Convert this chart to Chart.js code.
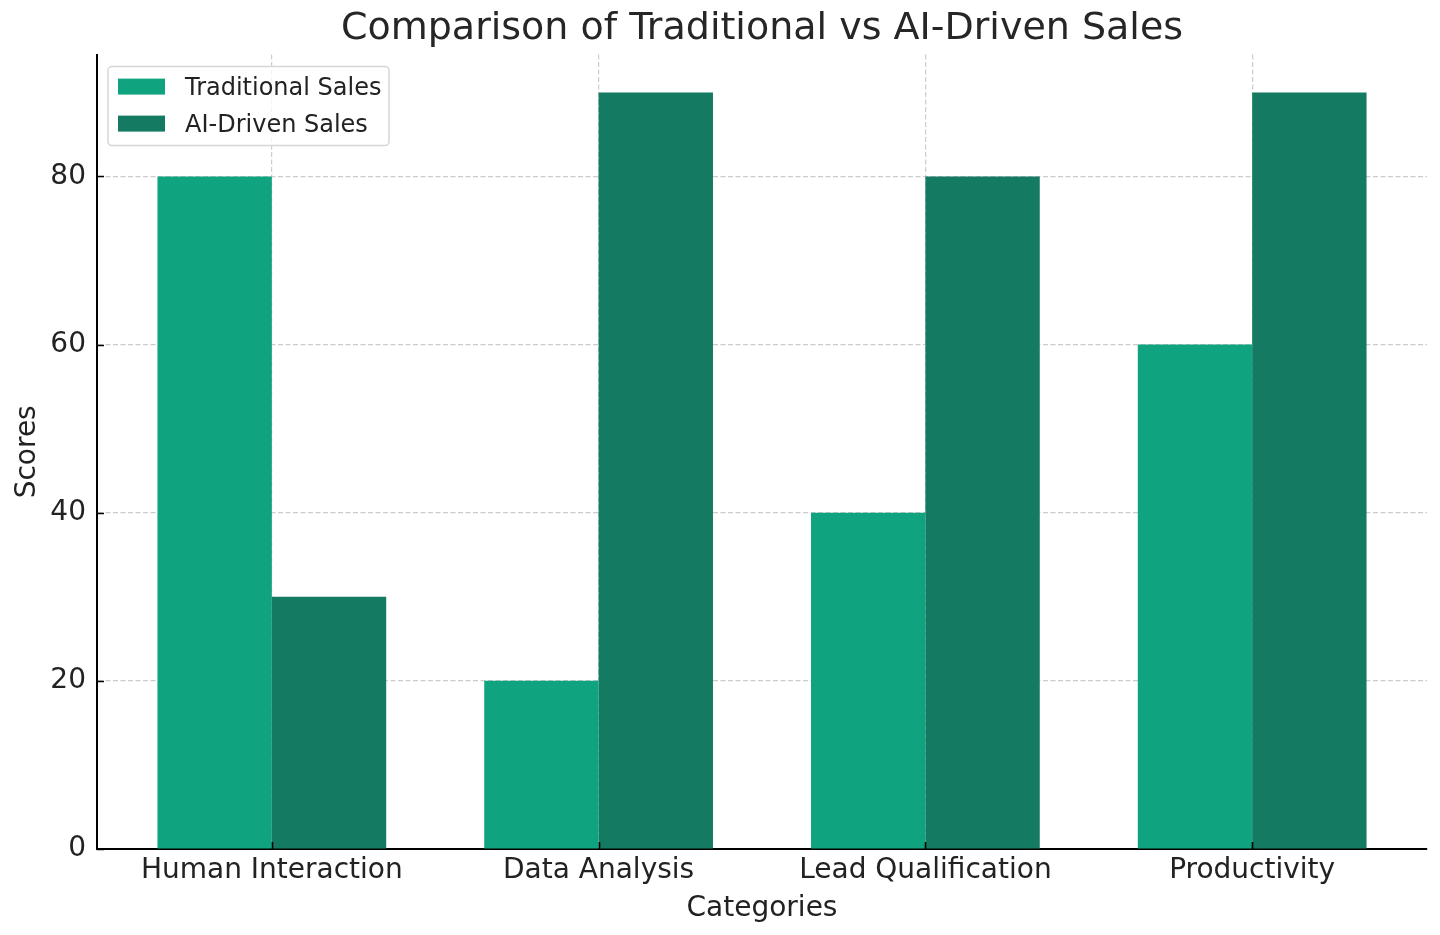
<!DOCTYPE html>
<html>
<head>
<meta charset="utf-8">
<script src="https://cdn.jsdelivr.net/npm/chart.js@4.4.0/dist/chart.umd.min.js"></script>
<style>
  html, body { margin: 0; padding: 0; background: #fff; }
  #wrap { width: 1440px; height: 935px; }
</style>
</head>
<body>
<div id="wrap"><canvas id="graph"></canvas></div>
<script>
// =========================== Data
const categories = ['Human Interaction', 'Data Analysis', 'Lead Qualification', 'Productivity']
const traditional = [80, 20, 40, 60]
const aiDriven = [30, 90, 80, 90]
const yTicks = [0, 20, 40, 60, 80]

const colTrad = '#10a37f'
const colAI = '#157a62'
const FONT = "'DejaVu Sans', sans-serif"

// =========================== Plugins
// inward ticks like matplotlib
const innerTicks = {
    id: 'innerTicks',
    afterDraw(chart){
        const ctx = chart.ctx
        const x = chart.scales.x, y = chart.scales.y
        const a = chart.chartArea
        ctx.save()
        ctx.strokeStyle = '#000'
        ctx.lineWidth = 1.6
        ctx.beginPath()
        yTicks.forEach(v => {
            const py = Math.round(y.getPixelForValue(v)) + 0.5
            ctx.moveTo(a.left, py)
            ctx.lineTo(a.left + 7, py)
        })
        categories.forEach((c, i) => {
            const px = Math.round(x.getPixelForValue(i)) + 0.5
            ctx.moveTo(px, a.bottom)
            ctx.lineTo(px, a.bottom - 7)
        })
        ctx.stroke()
        ctx.restore()
    }
}

// legend box in upper left of plot area
const boxLegend = {
    id: 'boxLegend',
    afterDraw(chart){
        const ctx = chart.ctx
        const a = chart.chartArea
        const x0 = a.left + 11, y0 = a.top + 12
        const w = 281, h = 79
        ctx.save()
        ctx.fillStyle = 'rgba(255,255,255,0.8)'
        ctx.strokeStyle = '#d6d6d6'
        ctx.lineWidth = 1.5
        ctx.beginPath()
        ctx.roundRect(x0, y0, w, h, 4)
        ctx.fill()
        ctx.stroke()
        ctx.font = '24px ' + FONT
        ctx.textBaseline = 'middle'
        chart.data.datasets.forEach((ds, i) => {
            const cy = y0 + 20 + i * 37
            ctx.fillStyle = ds.backgroundColor
            ctx.fillRect(x0 + 10, cy - 8, 47, 16)
            ctx.fillStyle = '#222'
            ctx.fillText(ds.label, x0 + 77, cy + 2)
        })
        ctx.restore()
    }
}

// =========================== Chart
function dash(){
    const dv = document.getElementById('graph')

    new Chart(dv, {
        type: 'bar',
        data: {
            datasets: [{
                label: 'Traditional Sales',
                data: categories.map((c, i) => ({x: i, y: traditional[i]})),
                backgroundColor: colTrad,
                borderWidth: 0,
            },{
                label: 'AI-Driven Sales',
                data: categories.map((c, i) => ({x: i, y: aiDriven[i]})),
                backgroundColor: colAI,
                borderWidth: 0,
            }]
        },
        options: {
            responsive: true,
            maintainAspectRatio: false,
            animation: false,
            categoryPercentage: 0.7,
            barPercentage: 1.0,
            layout: { padding: { left: 0, right: 13, top: 0, bottom: 0 } },
            scales: {
                x: {
                    type: 'linear',
                    min: -0.535,
                    max: 3.535,
                    offset: false,
                    z: 1,
                    afterBuildTicks: s => { s.ticks = categories.map((c, i) => ({value: i})) },
                    afterFit: s => { s.height = 86 },
                    grid: { offset: false, color: '#cccccc', lineWidth: 1.2, drawTicks: false },
                    border: { display: true, color: '#000', width: 2, dash: [5, 2.5] },
                    ticks: {
                        padding: 5,
                        color: '#222',
                        font: { family: FONT, size: 28 },
                        maxRotation: 0,
                        autoSkip: false,
                        callback: v => categories[v]
                    },
                    title: {
                        display: true,
                        text: 'Categories',
                        color: '#222',
                        font: { family: FONT, size: 28 },
                        padding: { top: 0, bottom: 9 }
                    }
                },
                y: {
                    min: 0,
                    max: 94.5,
                    z: 1,
                    afterBuildTicks: s => { s.ticks = yTicks.map(v => ({value: v})) },
                    afterFit: s => { s.width = 97 },
                    grid: { color: '#cccccc', lineWidth: 1.2, drawTicks: false },
                    border: { display: true, color: '#000', width: 2, dash: [5, 2.5] },
                    ticks: {
                        padding: 11,
                        color: '#222',
                        font: { family: FONT, size: 28 }
                    },
                    title: {
                        display: true,
                        text: 'Scores',
                        color: '#222',
                        font: { family: FONT, size: 28 },
                        padding: { top: 11, bottom: 0 }
                    }
                }
            },
            plugins: {
                legend: { display: false },
                tooltip: { enabled: false },
                title: {
                    display: true,
                    fullSize: false,
                    text: 'Comparison of Traditional vs AI-Driven Sales',
                    color: '#262626',
                    font: { family: FONT, size: 38, weight: 'normal' },
                    padding: { top: 6, bottom: 3 }
                }
            }
        },
        plugins: [innerTicks, boxLegend]
    })
}

dash()
</script>
</body>
</html>
